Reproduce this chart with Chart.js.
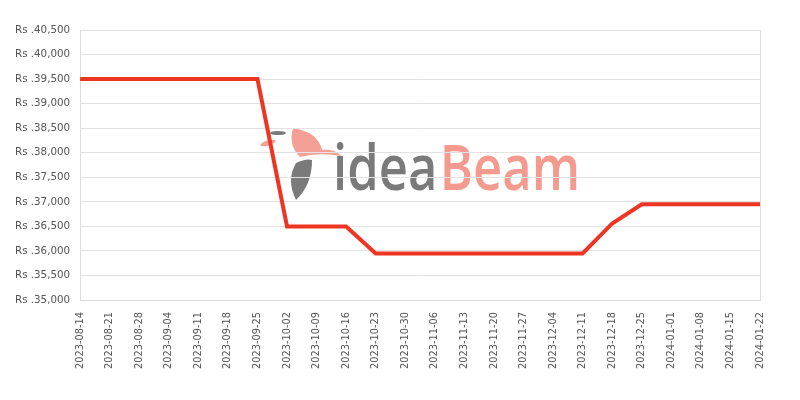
<!DOCTYPE html>
<html>
<head>
<meta charset="utf-8">
<script src="https://cdn.jsdelivr.net/npm/chart.js@4/dist/chart.umd.min.js"></script>
<style>
html,body{margin:0;padding:0;background:#fff;}
#wrap{width:800px;height:400px;position:relative;}
</style>
</head>
<body>
<div id="wrap"><canvas id="c" width="800" height="400"></canvas></div>
<script>
const dates = ["2023-08-14","2023-08-21","2023-08-28","2023-09-04","2023-09-11","2023-09-18","2023-09-25","2023-10-02","2023-10-09","2023-10-16","2023-10-23","2023-10-30","2023-11-06","2023-11-13","2023-11-20","2023-11-27","2023-12-04","2023-12-11","2023-12-18","2023-12-25","2024-01-01","2024-01-08","2024-01-15","2024-01-22"];
const prices = [39500,39500,39500,39500,39500,39500,39500,36500,36500,36500,35950,35950,35950,35950,35950,35950,35950,35950,36560,36950,36950,36950,36950,36950];
const yMin = 35000, yMax = 40500, yStep = 500;

const watermark = {
  id: 'watermark',
  beforeDraw(chart) {
    const ctx = chart.ctx;
    ctx.save();
    // bird (simplified)
    ctx.fillStyle = '#f4a096';
    ctx.beginPath();
    ctx.moveTo(293, 128);
    ctx.quadraticCurveTo(318, 132, 322, 150);
    ctx.quadraticCurveTo(332, 148, 342, 156);
    ctx.quadraticCurveTo(318, 152, 300, 157);
    ctx.quadraticCurveTo(288, 145, 293, 128);
    ctx.closePath();
    ctx.fill();
    ctx.beginPath();
    ctx.ellipse(268, 143, 8, 2.5, -0.3, 0, Math.PI * 2);
    ctx.fill();
    ctx.fillStyle = '#7a7a7a';
    ctx.beginPath();
    ctx.moveTo(296, 200);
    ctx.quadraticCurveTo(286, 180, 296, 163);
    ctx.quadraticCurveTo(306, 158, 312, 160);
    ctx.quadraticCurveTo(312, 185, 296, 200);
    ctx.closePath();
    ctx.fill();
    ctx.beginPath();
    ctx.ellipse(278, 133, 8, 2, 0, 0, Math.PI * 2);
    ctx.fill();
    // text
    ctx.font = '600 64px "Open Sans", sans-serif';
    ctx.textBaseline = 'alphabetic';
    const w1 = ctx.measureText('idea').width;
    const w2 = ctx.measureText('Beam').width;
    const target = 247;
    const s = target / (w1 + w2 + 3);
    ctx.translate(333, 190);
    ctx.scale(s, 1);
    ctx.fillStyle = '#7a7a7a';
    ctx.fillText('idea', 0, 0);
    ctx.fillStyle = '#f59a8f';
    ctx.fillText('Beam', w1 + 3, 0);
    ctx.restore();
  }
};

new Chart(document.getElementById('c'), {
  type: 'line',
  data: {
    labels: dates,
    datasets: [{
      data: prices,
      borderColor: '#ee3524',
      backgroundColor: '#ee3524',
      borderWidth: 4,
      pointRadius: 0,
      tension: 0,
      fill: false
    }]
  },
  options: {
    responsive: false,
    animation: false,
    layout: { padding: { top: 30, right: 40, left: 5, bottom: 19 } },
    plugins: { legend: { display: false }, tooltip: { enabled: false } },
    scales: {
      x: {
        offset: false,
        grid: {
          color: (c) => (c.index === dates.length - 1 ? '#dddddd' : 'rgba(0,0,0,0)'),
          drawTicks: false
        },
        border: { display: true, color: '#dddddd' },
        ticks: {
          autoSkip: false,
          maxRotation: 90,
          minRotation: 90,
          padding: 12,
          color: '#555555',
          font: { family: '"DejaVu Sans", sans-serif', size: 9.8 }
        }
      },
      y: {
        min: yMin,
        max: yMax,
        grid: { color: '#e2e2e2', drawTicks: false },
        border: { display: true, color: '#dddddd' },
        ticks: {
          stepSize: yStep,
          padding: 10,
          color: '#555555',
          font: { family: '"DejaVu Sans", sans-serif', size: 10.3 },
          callback: (v) => 'Rs .' + Number(v).toLocaleString('en-US')
        }
      }
    }
  },
  plugins: [watermark]
});
</script>
</body>
</html>
